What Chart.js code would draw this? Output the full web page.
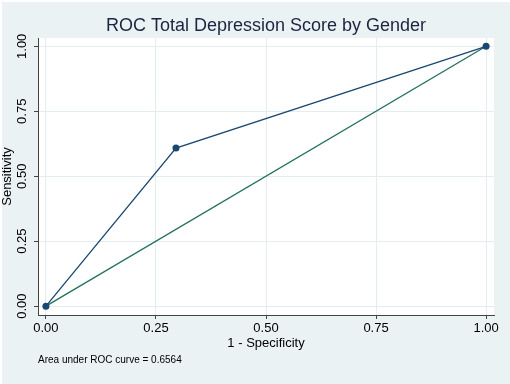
<!DOCTYPE html>
<html>
<head>
<meta charset="utf-8">
<title>ROC Total Depression Score by Gender</title>
<script src="https://cdn.jsdelivr.net/npm/chart.js@4/dist/chart.umd.min.js"></script>
<style>
    html, body { margin: 0; padding: 0; background: #ffffff; }
    #wrap { width: 510px; height: 384px; }
</style>
</head>
<body>
<div id="wrap"><canvas id="myChart" width="510" height="384"></canvas></div>
<script>
// values
var rocX = [0, 0.2955, 1];
var rocY = [0, 0.6083, 1];
var refX = [0, 1];
var refY = [0, 1];
var tickValues = [0, 0.25, 0.5, 0.75, 1];
var titleText = "ROC Total Depression Score by Gender";
var xTitle = "1 - Specificity";
var yTitle = "Sensitivity";
var noteText = "Area under ROC curve = 0.6564";

var fontName = "'Liberation Sans', Arial, Helvetica, sans-serif";

function toPoints(xs, ys) {
    var pts = [];
    for (var i = 0; i < xs.length; i++) {
        pts.push({x: xs[i], y: ys[i]});
    }
    return pts;
}

function fixedTicks(scale) {
    scale.ticks = tickValues.map(function (v) {
        return {value: v};
    });
}

var stataBackground = {
    id: 'stataBackground',
    beforeDraw: function (chart) {
        var ctx = chart.ctx;
        var a = chart.chartArea;
        ctx.save();
        ctx.fillStyle = '#ffffff';
        ctx.fillRect(0, 0, chart.width, chart.height);
        ctx.fillStyle = '#eaf2f3';
        ctx.fillRect(2, 2, chart.width - 2, chart.height - 2);
        ctx.fillStyle = '#ffffff';
        ctx.fillRect(a.left, a.top, a.right - a.left, a.bottom - a.top);
        ctx.restore();
    }
};

function drawChart() {
    var canvas = document.getElementById('myChart');
    new Chart(canvas, {
        type: 'scatter',
        data: {
            datasets: [{
                    data: toPoints(rocX, rocY),
                    showLine: true,
                    borderColor: '#1a476f',
                    borderWidth: 1.3,
                    backgroundColor: '#1a476f',
                    pointRadius: 3.5,
                    pointBorderWidth: 0,
                    pointHoverRadius: 3.5
                }, {
                    data: toPoints(refX, refY),
                    showLine: true,
                    borderColor: '#23705e',
                    borderWidth: 1.3,
                    pointRadius: 0,
                    pointHoverRadius: 0
                }
            ]
        },
        options: {
            responsive: false,
            animation: false,
            layout: {
                padding: {left: 0, right: 16, top: 0, bottom: 0}
            },
            plugins: {
                legend: {display: false},
                tooltip: {enabled: false},
                title: {
                    display: true,
                    text: titleText,
                    fullSize: false,
                    color: '#1a2640',
                    font: {family: fontName, size: 18, weight: 'normal'},
                    padding: {top: 15.5, bottom: 0.9}
                },
                subtitle: {
                    display: true,
                    text: noteText,
                    position: 'bottom',
                    align: 'start',
                    fullSize: false,
                    color: '#000000',
                    font: {family: fontName, size: 10, weight: 'normal'},
                    padding: {top: 3, bottom: 18}
                }
            },
            scales: {
                x: {
                    type: 'linear',
                    min: -0.018,
                    max: 1.018,
                    afterBuildTicks: fixedTicks,
                    afterFit: function (scale) {
                        scale.height = 36;
                    },
                    grid: {
                        color: '#e3ecee',
                        lineWidth: 1,
                        tickColor: '#444444',
                        tickLength: 4
                    },
                    border: {display: true, color: '#444444', width: 1},
                    ticks: {
                        color: '#000000',
                        font: {family: fontName, size: 13},
                        padding: 2,
                        maxRotation: 0,
                        callback: function (v) {
                            return v.toFixed(2);
                        }
                    },
                    title: {
                        display: true,
                        text: xTitle,
                        color: '#000000',
                        font: {family: fontName, size: 13},
                        padding: {top: 0, bottom: 0}
                    }
                },
                y: {
                    type: 'linear',
                    min: -0.034,
                    max: 1.032,
                    afterBuildTicks: fixedTicks,
                    afterFit: function (scale) {
                        scale.width = 38;
                    },
                    grid: {
                        color: '#e3ecee',
                        lineWidth: 1,
                        tickColor: '#444444',
                        tickLength: 4
                    },
                    border: {display: true, color: '#444444', width: 1},
                    ticks: {
                        color: '#000000',
                        font: {family: fontName, size: 13},
                        padding: -1,
                        minRotation: 90,
                        maxRotation: 90,
                        crossAlign: 'center',
                        callback: function (v) {
                            return v.toFixed(2);
                        }
                    },
                    title: {
                        display: true,
                        text: yTitle,
                        color: '#000000',
                        font: {family: fontName, size: 13},
                        padding: {top: 0, bottom: 0}
                    }
                }
            }
        },
        plugins: [stataBackground]
    });
}

drawChart();
</script>
</body>
</html>
